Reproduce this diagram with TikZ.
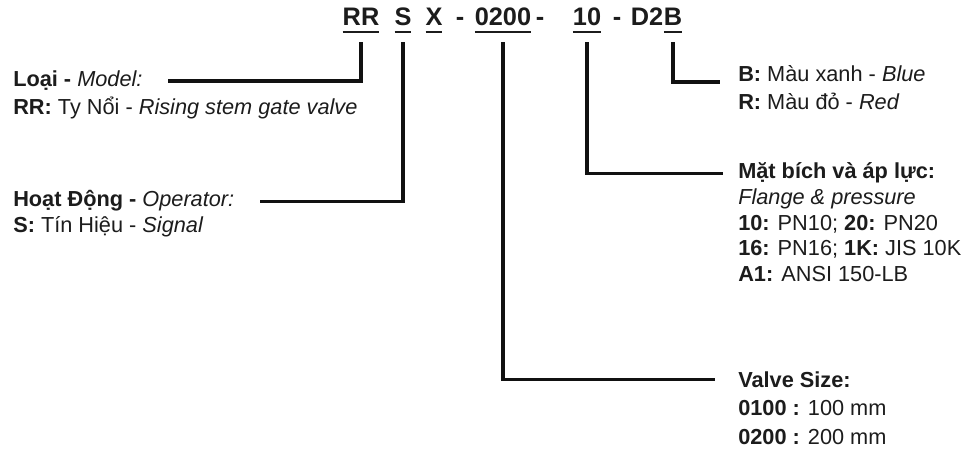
\documentclass[tikz,border=0pt]{standalone}
\usepackage{fontspec}
\setmainfont{Liberation Sans}
\usetikzlibrary{positioning}
\definecolor{ink}{HTML}{1C1C1C}
\definecolor{leadercol}{HTML}{111111}
\newcommand{\codeul}[1]{\setbox0=\hbox{#1}\rlap{\rule[-5.5pt]{\wd0}{1.9pt}}\box0}
\newcommand{\firstline}{\rule{0pt}{13pt}}

\begin{document}
\begin{tikzpicture}[
    x=0.75pt, y=-0.75pt,
    font=\fontsize{16.3}{19.1}\selectfont,
    code/.style={font=\fontsize{19}{22}\selectfont\bfseries, text=ink, inner sep=0pt, anchor=base},
    head/.style={text=ink, inner sep=0pt, anchor=base west},
    body/.style={text=ink, inner sep=0pt, anchor=base west, align=left},
    list/.style={text=ink, inner sep=0pt, anchor=north west, align=left},
    leader/.style={draw=leadercol, line width=2.4pt, shorten <=6.5pt}
]
    \useasboundingbox[fill=white] (0,0) rectangle (970,452);

    % Order code
    \node[code] (code_rr) at (361,26) {\codeul{RR}};
    \node[code] (code_s) at (403,26) {\codeul{S}};
    \node[code] (code_x) at (434,26) {\codeul{X}};
    \node[code] (dash_a) at (460,26) {-};
    \node[code] (code_size) at (503,26) {\codeul{0200}};
    \node[code] (dash_b) at (540,26) {-};
    \node[code] (code_pn) at (587,26) {\codeul{10}};
    \node[code] (dash_c) at (617,26) {-};
    \node[code] (code_b) at (673,26) {\codeul{B}};
    \node[code, anchor=base east] (code_d2) at (code_b.base west) {D2};

    % Left labels
    \node[head] (model) at (13,87) {\textbf{Loại -} \textit{Model:}};
    \node[body] (model_rr) at ([yshift=-20.5pt]model.base west) {\textbf{RR:} Ty Nổi - \textit{Rising stem gate valve}};
    \node[head] (oper) at (13,207) {\textbf{Hoạt Động -} \textit{Operator:}};
    \node[body] (oper_s) at ([yshift=-19.5pt]oper.base west) {\textbf{S:} Tín Hiệu - \textit{Signal}};

    % Right labels
    \node[head] (blue) at (738,82) {\textbf{B:} Màu xanh - \textit{Blue}};
    \node[body] (red) at ([yshift=-20.5pt]blue.base west) {\textbf{R:} Màu đỏ - \textit{Red}};
    \node[head] (flange) at (738,179) {\textbf{Mặt bích và áp lực:}};
    \node[list] (flange_list) at ([yshift=-6.1pt]flange.base west) {\firstline\textit{Flange \& pressure}\\
        \textbf{10:} PN10; \textbf{20:} PN20\\
        \textbf{16:} PN16; \textbf{1K:} JIS 10K\\
        \textbf{A1:} ANSI 150-LB};
    \node[head] (vsize) at (738,387) {\textbf{Valve Size:}};
    \node[list, font=\fontsize{16.3}{21.4}\selectfont] (vsize_list) at ([yshift=-8.4pt]vsize.base west) {\firstline\textbf{0100 :} 100 mm\\
        \textbf{0200 :} 200 mm};

    % Leaders
    \draw[leader, shorten >=18.75pt] (code_rr.south) |- (model.east);
    \draw[leader, shorten >=19pt] (code_s.south) |- (oper.east);
    \draw[leader, shorten >=17pt] (code_size.south) |- (vsize.west);
    \draw[leader, shorten >=11pt] (code_pn.south) |- (flange.west);
    \draw[leader, shorten >=13.5pt] (code_b.south) |- (blue.base west);

\end{tikzpicture}
\end{document}
